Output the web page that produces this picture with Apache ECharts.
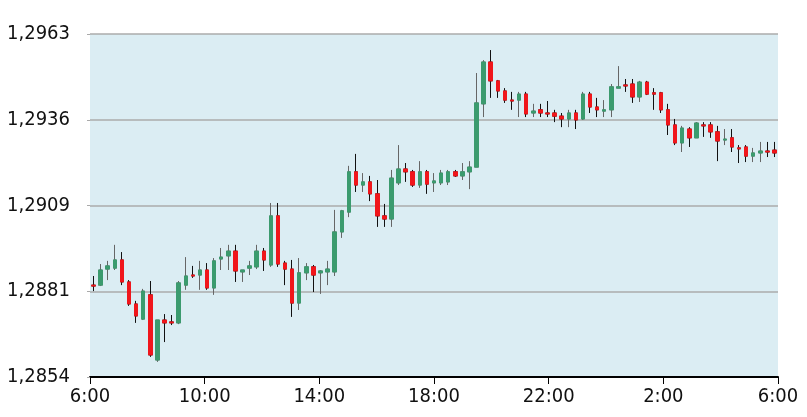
<!DOCTYPE html>
<html>
<head>
<meta charset="utf-8">
<script src="https://cdn.jsdelivr.net/npm/echarts@6/dist/echarts.min.js"></script>
<style>
html,body{margin:0;padding:0;background:#fff;}
#chart{width:807px;height:417px;}
</style>
</head>
<body>
<div id="chart"></div>
<script>
// 15-minute candles, 6:00 -> 6:00 next day
var openVals = [1.28832,1.28832,1.28883,1.28886,1.28912,1.28842,1.28772,1.28724,1.28801,1.28594,
1.28721,1.28715,1.28712,1.28832,1.28864,1.28864,1.28880,1.28823,1.28915,1.28925,
1.28940,1.28874,1.28886,1.28890,1.28940,1.28896,1.29052,1.28902,1.28883,1.28775,
1.28871,1.28890,1.28871,1.28874,1.28874,1.29001,1.29064,1.29192,1.29150,1.29160,
1.29122,1.29052,1.29042,1.29157,1.29201,1.29192,1.29150,1.29192,1.29157,1.29157,
1.29160,1.29192,1.29179,1.29192,1.29207,1.29408,1.29541,1.29481,1.29449,1.29420,
1.29420,1.29439,1.29379,1.29389,1.29379,1.29379,1.29369,1.29360,1.29379,1.29360,
1.29439,1.29398,1.29385,1.29389,1.29458,1.29468,1.29471,1.29430,1.29477,1.29443,
1.29443,1.29389,1.29341,1.29284,1.29328,1.29300,1.29341,1.29341,1.29319,1.29293,
1.29300,1.29268,1.29271,1.29242,1.29252,1.29258,1.29261];
var closeVals = [1.28829,1.28880,1.28893,1.28912,1.28842,1.28772,1.28734,1.28813,1.28610,1.28721,
1.28712,1.28712,1.28839,1.28861,1.28861,1.28880,1.28823,1.28909,1.28921,1.28940,
1.28877,1.28880,1.28893,1.28940,1.28912,1.29052,1.28899,1.28883,1.28775,1.28871,
1.28890,1.28864,1.28877,1.28883,1.29001,1.29068,1.29192,1.29150,1.29160,1.29122,
1.29052,1.29042,1.29172,1.29201,1.29192,1.29150,1.29192,1.29153,1.29163,1.29188,
1.29192,1.29179,1.29192,1.29207,1.29411,1.29541,1.29481,1.29449,1.29420,1.29417,
1.29439,1.29376,1.29385,1.29379,1.29376,1.29369,1.29360,1.29379,1.29357,1.29439,
1.29398,1.29389,1.29389,1.29462,1.29462,1.29465,1.29430,1.29477,1.29439,1.29439,
1.29389,1.29341,1.29284,1.29331,1.29300,1.29347,1.29338,1.29319,1.29290,1.29296,
1.29271,1.29265,1.29242,1.29252,1.29258,1.29255,1.29252];
var lowVals = [1.28813,1.28829,1.28848,1.28880,1.28832,1.28766,1.28712,1.28721,1.28604,1.28588,
1.28651,1.28705,1.28708,1.28817,1.28855,1.28817,1.28817,1.28801,1.28880,1.28880,
1.28842,1.28842,1.28864,1.28883,1.28877,1.28890,1.28890,1.28832,1.28731,1.28753,
1.28848,1.28810,1.28804,1.28832,1.28861,1.28982,1.29048,1.29128,1.29128,1.29099,
1.29017,1.29017,1.29017,1.29150,1.29160,1.29144,1.29141,1.29122,1.29128,1.29150,
1.29150,1.29176,1.29166,1.29137,1.29207,1.29366,1.29427,1.29427,1.29411,1.29389,
1.29366,1.29366,1.29366,1.29366,1.29366,1.29350,1.29334,1.29334,1.29328,1.29357,
1.29379,1.29366,1.29366,1.29366,1.29458,1.29446,1.29411,1.29414,1.29436,1.29389,
1.29379,1.29309,1.29277,1.29255,1.29271,1.29300,1.29303,1.29300,1.29226,1.29277,
1.29255,1.29220,1.29223,1.29223,1.29223,1.29239,1.29239];
var highVals = [1.28861,1.28899,1.28909,1.28960,1.28937,1.28848,1.28782,1.28820,1.28845,1.28721,
1.28740,1.28737,1.28845,1.28921,1.28893,1.28909,1.28902,1.28918,1.28950,1.28960,
1.28960,1.28880,1.28909,1.28960,1.28950,1.29093,1.29093,1.28909,1.28912,1.28918,
1.28902,1.28896,1.28880,1.28909,1.29071,1.29071,1.29211,1.29249,1.29188,1.29179,
1.29166,1.29090,1.29198,1.29277,1.29220,1.29198,1.29226,1.29198,1.29188,1.29198,
1.29198,1.29198,1.29220,1.29226,1.29506,1.29547,1.29579,1.29484,1.29458,1.29446,
1.29446,1.29446,1.29408,1.29408,1.29417,1.29389,1.29379,1.29389,1.29389,1.29446,
1.29446,1.29427,1.29420,1.29471,1.29528,1.29487,1.29487,1.29481,1.29481,1.29458,
1.29446,1.29408,1.29360,1.29338,1.29334,1.29350,1.29350,1.29350,1.29338,1.29328,
1.29328,1.29277,1.29277,1.29268,1.29287,1.29287,1.29287];

var xTickLabels = ['6:00','10:00','14:00','18:00','22:00','2:00','6:00'];
var yTickLabels = ['1,2854','1,2881','1,2909','1,2936','1,2963'];
var yMin = 1.2854, yMax = 1.2963, yStep = 0.002725;

var times = [];
for (var i = 0; i < openVals.length; i++) {
  var h = (6 + Math.floor(i / 4)) % 24, m = (i % 4) * 15;
  times.push(h + ':' + (m < 10 ? '0' + m : m));
}

var wickData = [], bodyData = [];
for (var j = 0; j < openVals.length; j++) {
  wickData.push([openVals[j], closeVals[j], lowVals[j], highVals[j]]);
  bodyData.push([openVals[j], closeVals[j], Math.min(openVals[j], closeVals[j]), Math.max(openVals[j], closeVals[j])]);
}

var UP = '#3b9b6e', DOWN = '#f0161b';
var FONT = "'Liberation Sans Narrow','DejaVu Sans Condensed','Liberation Sans',sans-serif";

var chart = echarts.init(document.getElementById('chart'), null, {renderer: 'canvas'});
chart.setOption({
  animation: false,
  grid: {left: 90, right: 29, top: 34, bottom: 40, show: true, backgroundColor: '#dbedf3', borderWidth: 0},
  xAxis: [
    {type: 'category', data: times, boundaryGap: true, show: false},
    {type: 'value', min: 0, max: 24, interval: 4, position: 'bottom',
     axisLine: {show: true, lineStyle: {color: '#000', width: 2}},
     axisTick: {show: true, length: 7, lineStyle: {color: '#000', width: 1}},
     splitLine: {show: false},
     axisLabel: {margin: 10, color: '#111', fontSize: 20, fontFamily: FONT,
       formatter: function (v) { return xTickLabels[Math.round(v / 4)]; }}}
  ],
  yAxis: {type: 'value', min: yMin, max: yMax, interval: yStep,
    axisLine: {show: false},
    axisTick: {show: true, length: 3, lineStyle: {color: '#aaa'}},
    splitLine: {show: true, lineStyle: {color: '#ababab', width: 1.5}},
    axisLabel: {margin: 20, color: '#111', fontSize: 20, fontFamily: FONT,
      formatter: function (v) { return yTickLabels[Math.round((v - yMin) / yStep)]; }}},
  series: [
    {type: 'candlestick', xAxisIndex: 0, data: wickData, barWidth: 4, clip: false,
     itemStyle: {color: UP, color0: DOWN, borderColor: '#666', borderColor0: '#111', borderWidth: 1}},
    {type: 'candlestick', xAxisIndex: 0, data: bodyData, barWidth: 4, clip: false,
     itemStyle: {color: UP, color0: DOWN, borderColor: UP, borderColor0: DOWN, borderWidth: 1}}
  ]
});
</script>
</body>
</html>
